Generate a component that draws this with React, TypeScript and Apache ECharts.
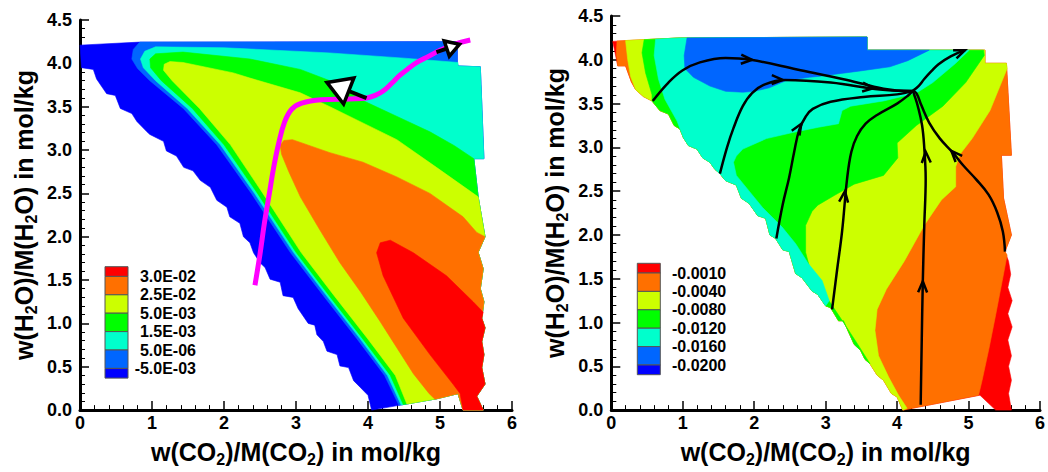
import React, { useEffect, useRef } from 'react';
import * as echarts from 'echarts';

type P = [number, number];

const FONT = '"Liberation Sans", Arial, Helvetica, sans-serif';

// colour levels, top (highest) to bottom (lowest)
const COLORS = ['#ff0000', '#ff7000', '#ccff00', '#00ff00', '#00ffcc', '#0066ff', '#0000ff'];
const LEFT_LEVELS = ['3.0E-02', '2.5E-02', '5.0E-03', '1.5E-03', '5.0E-06', '-5.0E-03'];
const RIGHT_LEVELS = ['-0.0010', '-0.0040', '-0.0080', '-0.0120', '-0.0160', '-0.0200'];

const X_RANGE: P = [0, 6];
const Y_RANGE: P = [0, 4.5];

// ---------------- LEFT PLOT ----------------
const LEFT_TOP: P[] = [[0, 4.21], [0.83, 4.245]];
const EDGE_L: P[] = [
  [5.24, 4.25], [5.24, 4.01], [5.25, 3.97], [5.56, 3.96], [5.61, 2.9], [5.47, 2.9], [5.53, 2.46],
  [5.625, 2.0], [5.53, 1.82], [5.6, 1.63], [5.56, 1.4], [5.61, 1.25], [5.58, 1.06], [5.625, 0.95],
  [5.58, 0.79], [5.61, 0.64], [5.58, 0.49], [5.625, 0.3], [5.51, 0.16], [5.6, 0.0], [5.32, 0.0],
  [5.25, 0.19], [4.95, 0.13],
];
const LEFT_LOWER: P[] = [
  [4.05, 0.0], [4.0, 0.17], [3.89, 0.265], [3.8, 0.34], [3.73, 0.49], [3.61, 0.51], [3.57, 0.64],
  [3.43, 0.68], [3.38, 0.79], [3.29, 0.87], [3.26, 0.98], [3.17, 1.0], [3.03, 1.17], [2.96, 1.3],
  [2.82, 1.32], [2.78, 1.475], [2.64, 1.51], [2.57, 1.645], [2.5, 1.7], [2.41, 1.815], [2.36, 1.93],
  [2.27, 2.0], [2.22, 2.155], [2.08, 2.23], [2.04, 2.34], [1.9, 2.42], [1.81, 2.57], [1.67, 2.65],
  [1.57, 2.76], [1.44, 2.8], [1.34, 2.93], [1.2, 2.99], [1.16, 3.1], [0.97, 3.18], [0.93, 3.21],
  [0.79, 3.33], [0.72, 3.42], [0.56, 3.48], [0.49, 3.63], [0.37, 3.65], [0.32, 3.71], [0.23, 3.82],
  [0.185, 3.93], [0.02, 3.95], [0.0, 4.21],
];
const L_B1: P[] = [
  [4.43, 0.055], [4.23, 0.4], [3.84, 0.83], [3.38, 1.32], [2.92, 1.82], [2.38, 2.5], [1.9, 3.06],
  [1.435, 3.48], [0.97, 3.8], [0.8, 3.94], [0.72, 4.05], [0.74, 4.16], [0.83, 4.245],
];
const L_B2: P[] = [
  [4.46, 0.06], [4.27, 0.4], [3.885, 0.83], [3.425, 1.32], [2.965, 1.82], [2.425, 2.5], [1.95, 3.06],
  [1.49, 3.48], [1.05, 3.8], [0.88, 3.95], [0.84, 4.05], [0.9, 4.14], [1.05, 4.19], [2.0, 4.18],
  [3.47, 4.12], [4.5, 4.06], [5.25, 4.01],
];
const L_B3: P[] = [
  [4.49, 0.064], [4.31, 0.4], [3.92, 0.83], [3.46, 1.32], [3.0, 1.82], [2.465, 2.5], [2.0, 3.06],
  [1.56, 3.48], [1.13, 3.8], [0.98, 3.95], [0.97, 4.05], [1.05, 4.11], [1.43, 4.13], [2.36, 4.05],
  [3.06, 3.93], [3.5, 3.79], [3.93, 3.57], [4.5, 3.35], [4.86, 3.21], [5.2, 3.05], [5.47, 2.9],
];
const L_B4: P[] = [
  [4.54, 0.07], [4.38, 0.4], [3.99, 0.83], [3.53, 1.32], [3.07, 1.82], [2.54, 2.5], [2.09, 3.06],
  [1.66, 3.48], [1.28, 3.8], [1.16, 3.92], [1.17, 3.99], [1.25, 4.02], [1.43, 4.01], [2.13, 3.89],
  [2.36, 3.83], [3.06, 3.66], [3.47, 3.5], [4.4, 3.12], [4.95, 2.8], [5.53, 2.46],
];
const L_ORANGE: P[] = [
  [4.93, 0.125], [4.85, 0.19], [4.63, 0.42], [4.4, 0.72], [4.17, 1.02], [3.9, 1.36], [3.61, 1.7],
  [3.33, 2.08], [3.06, 2.46], [2.9, 2.75], [2.8, 2.95], [2.78, 3.05], [2.83, 3.11], [2.95, 3.12],
  [3.47, 2.97], [3.93, 2.86], [4.4, 2.69], [4.86, 2.5], [5.32, 2.23], [5.51, 2.05], [5.625, 2.0],
];
const L_RED: P[] = [
  [5.28, 0.19], [5.18, 0.3], [4.86, 0.64], [4.49, 1.06], [4.21, 1.55], [4.12, 1.815], [4.17, 1.93],
  [4.31, 1.96], [4.63, 1.815], [5.09, 1.55], [5.46, 1.25], [5.6, 1.13],
];
const MAGENTA: P[] = [
  [2.43, 1.44], [2.5, 1.8], [2.56, 2.15], [2.63, 2.5], [2.69, 2.8], [2.76, 3.08], [2.84, 3.32],
  [2.94, 3.47], [3.08, 3.54], [3.35, 3.58], [3.75, 3.59], [3.98, 3.6], [4.1, 3.63], [4.21, 3.68],
  [4.33, 3.77], [4.44, 3.86], [4.56, 3.94], [4.68, 4.01], [4.84, 4.08], [5.0, 4.15], [5.2, 4.22],
  [5.42, 4.27],
];
// [tailX, tailY, tipX, tipY]
const LEFT_ARROWS: number[][] = [
  [3.98, 3.6, 3.43, 3.78],
  [4.95, 4.13, 5.27, 4.22],
];

// ---------------- RIGHT PLOT ----------------
const TOP_R: P[] = [[0.02, 4.21], [0.97, 4.25], [3.58, 4.26], [3.58, 4.11]];
const EDGE_R: P[] = [
  [5.23, 4.11], [5.23, 3.96], [5.53, 3.96], [5.6, 2.91], [5.46, 2.91], [5.49, 2.42], [5.6, 2.0],
  [5.51, 1.81], [5.56, 1.7], [5.59, 1.55], [5.55, 1.4], [5.61, 1.25], [5.55, 1.1], [5.61, 0.95],
  [5.55, 0.8], [5.6, 0.62], [5.56, 0.5], [5.6, 0.34], [5.56, 0.19], [5.6, 0.0], [5.38, 0.0],
  [5.16, 0.17],
];
const RIGHT_LOWER: P[] = [
  [4.08, 0.0], [4.0, 0.15], [3.92, 0.19], [3.81, 0.34], [3.72, 0.4], [3.62, 0.53], [3.55, 0.58],
  [3.49, 0.68], [3.4, 0.75], [3.25, 1.02], [3.18, 1.02], [3.07, 1.17], [3.0, 1.19], [2.89, 1.32],
  [2.81, 1.36], [2.67, 1.51], [2.58, 1.56], [2.49, 1.81], [2.4, 1.83], [2.3, 1.96], [2.22, 2.0],
  [2.16, 2.19], [2.05, 2.22], [1.93, 2.36], [1.82, 2.42], [1.75, 2.57], [1.6, 2.62], [1.52, 2.7],
  [1.45, 2.75], [1.38, 2.83], [1.28, 2.88], [1.2, 2.98], [1.08, 3.02], [1.01, 3.11], [0.96, 3.21],
  [0.88, 3.25], [0.8, 3.38], [0.68, 3.42], [0.57, 3.53], [0.45, 3.58], [0.34, 3.66], [0.28, 3.75],
  [0.2, 3.93], [0.09, 3.93], [0.02, 4.21],
];
const R_ORANGE_TOP: P[] = [[0.08, 4.215], [0.97, 4.25], [3.58, 4.26], [3.58, 4.11]];
const R_RED_ORANGE: P[] = [[5.54, 1.77], [5.47, 1.47], [5.38, 1.09], [5.29, 0.72], [5.19, 0.34], [5.14, 0.17]];
const R_RED_SLIVER: P[] = [[0.07, 4.07]];
const R_YELLOW_TOP: P[] = [[0.2, 4.22], [0.97, 4.25], [3.58, 4.26], [3.58, 4.11]];
const R_YELLOW_ORANGE: P[] = [
  [5.54, 3.9], [5.3, 3.42], [5.05, 3.1], [4.88, 2.92], [4.82, 2.78], [4.82, 2.55], [4.62, 2.4],
  [4.38, 2.11], [4.1, 1.7], [3.85, 1.38], [3.72, 1.15], [3.69, 0.91], [3.74, 0.62], [3.88, 0.38],
  [4.02, 0.17], [4.14, 0.02],
];
const R_YELLOW_LEFT: P[] = [[0.27, 3.81], [0.23, 4.0]];
const R_GREEN_TOP: P[] = [[0.46, 4.23], [0.97, 4.25], [3.58, 4.26], [3.58, 4.11], [5.21, 4.11]];
const R_GREEN_YELLOW: P[] = [
  [5.22, 4.05], [4.96, 3.74], [4.64, 3.47], [4.27, 3.25], [4.0, 3.05], [4.01, 2.88], [3.81, 2.68],
  [3.4, 2.58], [3.12, 2.45], [2.89, 2.34], [2.81, 2.27], [2.72, 2.11], [2.72, 1.8], [2.8, 1.55],
  [2.93, 1.38], [3.07, 1.22], [3.25, 1.0], [3.45, 0.75], [3.62, 0.53],
];
const R_GREEN_LEFT: P[] = [[0.57, 3.6], [0.48, 3.85], [0.43, 4.08]];
const R_CYAN_TOP: P[] = [[0.62, 4.235], [0.97, 4.25], [3.58, 4.26], [3.58, 4.11], [5.01, 4.11]];
const R_CYAN_GREEN: P[] = [
  [4.82, 3.96], [4.5, 3.74], [4.27, 3.62], [3.81, 3.53], [3.35, 3.47], [3.23, 3.42], [3.18, 3.27],
  [2.9, 3.23], [2.54, 3.17], [2.17, 3.1], [1.84, 2.98], [1.75, 2.9], [1.71, 2.83], [1.75, 2.68],
  [1.93, 2.5], [2.12, 2.31], [2.39, 2.09], [2.58, 1.9], [2.76, 1.67], [2.95, 1.48], [3.05, 1.25],
];
const R_CYAN_LEFT: P[] = [[0.92, 3.3], [0.75, 3.55], [0.66, 3.78], [0.6, 4.05]];
const R_BLUE: P[] = [
  [1.06, 4.25], [3.58, 4.26], [3.58, 4.11], [4.45, 4.11], [4.15, 3.99], [3.9, 3.92], [3.46, 3.87],
  [2.89, 3.81], [2.77, 3.8], [2.44, 3.76], [2.21, 3.68], [2.0, 3.64], [1.84, 3.63], [1.6, 3.64],
  [1.38, 3.7], [1.15, 3.8], [1.03, 3.9], [1.02, 4.05],
];

const S1: P[] = [[0.58, 3.53], [0.8, 3.74], [1.0, 3.88], [1.24, 3.97], [1.6, 4.02], [1.95, 4.0], [2.6, 3.89], [3.3, 3.77], [3.81, 3.67], [4.18, 3.645], [4.22, 3.645]];
const S2: P[] = [[1.52, 2.7], [1.62, 3.0], [1.71, 3.22], [1.84, 3.47], [1.97, 3.62], [2.15, 3.72], [2.43, 3.77], [3.07, 3.74], [3.76, 3.66], [4.09, 3.645], [4.22, 3.645]];
const S3: P[] = [[2.31, 1.96], [2.4, 2.35], [2.49, 2.66], [2.56, 2.95], [2.63, 3.2], [2.72, 3.35], [2.82, 3.44], [3.07, 3.52], [3.53, 3.575], [4.0, 3.605], [4.22, 3.645]];
const S4: P[] = [[3.09, 1.15], [3.16, 1.6], [3.23, 2.04], [3.3, 2.64], [3.36, 2.95], [3.44, 3.13], [3.56, 3.27], [3.72, 3.37], [4.0, 3.5], [4.15, 3.59], [4.22, 3.645]];
const S5: P[] = [[4.33, 0.06], [4.345, 0.8], [4.36, 1.47], [4.38, 2.1], [4.4, 2.64], [4.38, 3.0], [4.35, 3.25], [4.29, 3.47], [4.24, 3.6], [4.22, 3.645]];
const S6: P[] = [[5.51, 1.81], [5.48, 2.04], [5.4, 2.26], [5.28, 2.46], [5.1, 2.64], [4.93, 2.79], [4.78, 2.94], [4.6, 3.1], [4.45, 3.28], [4.34, 3.48], [4.27, 3.62], [4.22, 3.645]];
const S7: P[] = [[4.22, 3.645], [4.3, 3.7], [4.38, 3.78], [4.48, 3.87], [4.58, 3.95], [4.75, 4.04], [4.95, 4.11]];
const STREAMLINES = [S1, S2, S3, S4, S5, S6, S7];
// [tipX, tipY, aheadX, aheadY] : chevron tip and a point further along the line
const RIGHT_ARROWS: number[][] = [
  [1.97, 4.0, 2.2, 3.99],
  [2.4, 3.77, 2.7, 3.765],
  [3.67, 3.675, 3.9, 3.655],
  [2.66, 3.27, 2.72, 3.35],
  [3.27, 2.5, 3.3, 2.7],
  [4.36, 1.47, 4.365, 1.7],
  [4.4, 2.95, 4.39, 3.1],
  [4.76, 2.96, 4.6, 3.1],
  [4.95, 4.11, 5.1, 4.16],
];

const LEFT_LAYERS = [
  { c: 6, pts: [...LEFT_TOP, ...EDGE_L, ...LEFT_LOWER] },
  { c: 5, pts: [...L_B1, ...EDGE_L] },
  { c: 4, pts: [...L_B2, ...EDGE_L.slice(2)] },
  { c: 3, pts: [...L_B3, ...EDGE_L.slice(6)] },
  { c: 2, pts: [...L_B4, ...EDGE_L.slice(7)] },
  { c: 1, pts: [...L_ORANGE, ...EDGE_L.slice(8, 22)] },
  { c: 0, pts: [...L_RED, ...EDGE_L.slice(12, 21)] },
];
const RIGHT_LAYERS = [
  { c: 0, pts: [...TOP_R, ...EDGE_R, ...RIGHT_LOWER] },
  { c: 1, pts: [...R_ORANGE_TOP, ...EDGE_R.slice(0, 8), ...R_RED_ORANGE, ...RIGHT_LOWER.slice(0, 44), ...R_RED_SLIVER] },
  { c: 2, pts: [...R_YELLOW_TOP, ...EDGE_R.slice(0, 3), ...R_YELLOW_ORANGE, ...RIGHT_LOWER.slice(0, 41), ...R_YELLOW_LEFT] },
  { c: 3, pts: [...R_GREEN_TOP, ...R_GREEN_YELLOW, ...RIGHT_LOWER.slice(6, 39), ...R_GREEN_LEFT] },
  { c: 4, pts: [...R_CYAN_TOP, ...R_CYAN_GREEN, ...RIGHT_LOWER.slice(12, 34), ...R_CYAN_LEFT] },
  { c: 5, pts: [...R_BLUE] },
];

const contourSeries = (layers: { c: number; pts: P[] }[], idx: number) => ({
  type: 'custom',
  xAxisIndex: idx,
  yAxisIndex: idx,
  silent: true,
  z: 1,
  data: layers.map((l) => l.pts[0]),
  renderItem: (params: any, api: any) => {
    const layer = layers[params.dataIndex];
    const points = layer.pts.map((p) => api.coord(p));
    const col = COLORS[layer.c];
    return { type: 'polygon', shape: { points }, style: { fill: col, stroke: col, lineWidth: 0.6 } };
  },
});

const legend = (x: number, top: number, labels: string[], labelX: number, align: string) => {
  const heights = [9.7, 18.4, 18.4, 18.4, 18.4, 18.4, 9.7];
  const els: any[] = [];
  let y = top;
  COLORS.forEach((c, i) => {
    els.push({ type: 'rect', shape: { x, y, width: 23, height: heights[i] }, style: { fill: c, stroke: '#555', lineWidth: 1 } });
    y += heights[i];
    if (i < labels.length) {
      els.push({
        type: 'text', x: labelX, y,
        style: { text: labels[i], fill: '#000', font: `bold 16px ${FONT}`, align, verticalAlign: 'middle' },
      });
    }
  });
  return els;
};

const richName = (a: string, b: string) => `{n|w(${a}}{s|2}{n|${b})/M(${a}}{s|2}{n|${b}) in mol/kg}`;
const nameStyle = {
  rich: {
    n: { fontSize: 25, fontWeight: 'bold', fontFamily: FONT, color: '#000', lineHeight: 28 },
    s: { fontSize: 16, fontWeight: 'bold', fontFamily: FONT, color: '#000', lineHeight: 18, padding: [14, 0, 0, 0] },
  },
};

const xAxis = (gridIndex: number) => ({
  gridIndex, type: 'value', min: X_RANGE[0], max: X_RANGE[1], interval: 1,
  name: richName('CO', ''), nameLocation: 'middle', nameGap: 21, nameTextStyle: nameStyle,
  axisLine: { show: true, onZero: false, lineStyle: { color: '#000', width: 3 } },
  axisTick: { show: true, inside: true, length: 9, lineStyle: { color: '#000', width: 1.5 } },
  minorTick: { show: true, splitNumber: 5, length: 5, lineStyle: { color: '#000', width: 1 } },
  splitLine: { show: false },
  axisLabel: { fontSize: 18, fontWeight: 'bold', fontFamily: FONT, color: '#000', margin: 4 },
});
const yAxis = (gridIndex: number) => ({
  gridIndex, type: 'value', min: Y_RANGE[0], max: Y_RANGE[1], interval: 0.5,
  name: richName('H', 'O'), nameLocation: 'middle', nameGap: 42, nameRotate: 90, nameTextStyle: nameStyle,
  axisLine: { show: true, onZero: false, lineStyle: { color: '#000', width: 3 } },
  axisTick: { show: true, inside: true, length: 9, lineStyle: { color: '#000', width: 1.5 } },
  minorTick: { show: true, splitNumber: 5, length: 5, lineStyle: { color: '#000', width: 1 } },
  splitLine: { show: false },
  axisLabel: {
    fontSize: 18, fontWeight: 'bold', fontFamily: FONT, color: '#000', margin: 8,
    formatter: (v: number) => v.toFixed(1),
  },
});

export default function App() {
  const ref = useRef<HTMLDivElement>(null);
  useEffect(() => {
    if (!ref.current) return;
    const chart = echarts.init(ref.current, null, { renderer: 'svg' });
    const series: any[] = [
      contourSeries(LEFT_LAYERS, 0),
      contourSeries(RIGHT_LAYERS, 1),
      {
        type: 'line', xAxisIndex: 0, yAxisIndex: 0, data: MAGENTA, smooth: 0.4, symbol: 'none', silent: true, z: 3,
        lineStyle: { color: '#ff00ff', width: 5 },
      },
      {
        type: 'custom', xAxisIndex: 0, yAxisIndex: 0, silent: true, z: 5,
        data: LEFT_ARROWS.map((a) => [a[2], a[3]]),
        renderItem: (params: any, api: any) => {
          const [tx, ty, hx, hy] = LEFT_ARROWS[params.dataIndex];
          const a = api.coord([tx, ty]);
          const b = api.coord([hx, hy]);
          const dx = b[0] - a[0], dy = b[1] - a[1];
          const L = Math.hypot(dx, dy);
          const ux = dx / L, uy = dy / L;
          const hl = 0.55 * L, hw = 0.6 * hl;
          const base = [b[0] - ux * hl, b[1] - uy * hl];
          const p1 = [base[0] - uy * hw, base[1] + ux * hw];
          const p2 = [base[0] + uy * hw, base[1] - ux * hw];
          return {
            type: 'group',
            children: [
              { type: 'line', shape: { x1: a[0], y1: a[1], x2: base[0], y2: base[1] }, style: { stroke: '#000', lineWidth: 4 } },
              { type: 'polygon', shape: { points: [b, p1, p2] }, style: { fill: '#fff', stroke: '#000', lineWidth: 3.5, lineJoin: 'miter' } },
            ],
          };
        },
      },
      ...STREAMLINES.map((s) => ({
        type: 'line', xAxisIndex: 1, yAxisIndex: 1, data: s, smooth: 0.4, symbol: 'none', silent: true, z: 3,
        lineStyle: { color: '#000', width: 2.5 },
      })),
      {
        type: 'custom', xAxisIndex: 1, yAxisIndex: 1, silent: true, z: 5,
        data: RIGHT_ARROWS.map((a) => [a[0], a[1]]),
        renderItem: (params: any, api: any) => {
          const [x, y, ax, ay] = RIGHT_ARROWS[params.dataIndex];
          const t = api.coord([x, y]);
          const f = api.coord([ax, ay]);
          const dx = f[0] - t[0], dy = f[1] - t[1];
          const L = Math.hypot(dx, dy);
          const ux = dx / L, uy = dy / L;
          const len = 11, hw = 4.5;
          const base = [t[0] - ux * len, t[1] - uy * len];
          return {
            type: 'polyline',
            shape: { points: [[base[0] - uy * hw, base[1] + ux * hw], t, [base[0] + uy * hw, base[1] - ux * hw]] },
            style: { stroke: '#000', lineWidth: 2.5, fill: 'none' },
          };
        },
      },
    ];
    chart.setOption({
      animation: false,
      backgroundColor: '#fff',
      grid: [
        { left: 80, top: 20, width: 432, height: 396.7 },
        { left: 611.3, top: 16, width: 435, height: 397.3 },
      ],
      xAxis: [xAxis(0), xAxis(1)],
      yAxis: [yAxis(0), yAxis(1)],
      series,
      graphic: [
        ...legend(105, 266.7, LEFT_LEVELS, 196, 'right'),
        ...legend(637.3, 263.3, RIGHT_LEVELS, 672, 'left'),
      ],
    });
    return () => chart.dispose();
  }, []);
  return <div ref={ref} style={{ position: 'absolute', left: 0, top: 0, width: 1048, height: 472 }} />;
}
